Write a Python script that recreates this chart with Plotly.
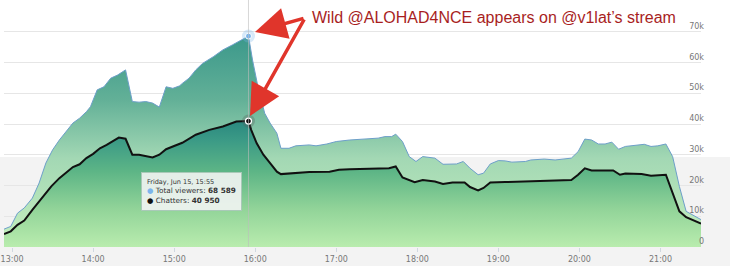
import plotly.graph_objects as go

DAY = "2018-06-15"

viewers_time = ["12:54","12:59","13:04","13:09","13:15","13:20","13:25","13:30","13:35","13:40",
                "13:45","13:50","13:55","13:58","14:03","14:08","14:13","14:18","14:24","14:29",
                "14:34","14:39","14:44","14:49","14:54","14:59","15:04","15:06","15:11","15:16",
                "15:21","15:29","15:36","15:43","15:50","15:55","15:58","16:02","16:07","16:11",
                "16:16","16:19","16:25","16:30","16:40","16:45","16:53","17:00","17:10","17:21",
                "17:31","17:36","17:41","17:44","17:49","17:54","17:59","18:04","18:13","18:19",
                "18:29","18:34","18:39","18:45","18:49","18:54","19:00","19:05","19:10","19:20",
                "19:24","19:34","19:42","19:54","19:59","20:04","20:09","20:14","20:19","20:24",
                "20:29","20:34","20:41","20:48","20:53","20:58","21:04","21:09","21:14","21:19",
                "21:30"]
viewers = [5800,6700,11000,12700,15900,20800,27300,31600,34800,37500,
           40300,41900,44000,45600,51100,52100,54900,55900,57600,47300,
           47100,47300,46800,45500,52100,51600,52400,53200,54900,57600,
           59700,61900,64100,65700,67300,68589,60800,52100,43500,40300,
           37000,32100,32100,32900,33200,32900,33500,34300,34800,35100,
           35400,35900,35900,36700,34300,29400,27800,29400,28900,26900,
           27000,27800,25600,23500,24000,27000,28100,28000,27600,27800,
           28300,28600,28300,28900,31000,35100,34800,33500,33500,34100,
           31800,32700,33000,33400,32700,32900,33500,29400,19700,11600,
           8900]

chatters_time = ["12:54","12:59","13:04","13:09","13:15","13:23","13:29","13:35","13:40","13:45",
                 "13:50","13:55","14:00","14:05","14:10","14:15","14:19","14:24","14:29","14:34",
                 "14:39","14:44","14:49","14:54","14:59","15:04","15:06","15:16","15:26","15:36",
                 "15:46","15:55","15:57","16:01","16:06","16:11","16:16","16:19","16:28","16:35",
                 "16:40","16:55","17:02","17:10","17:21","17:31","17:39","17:44","17:49","17:58",
                 "18:04","18:13","18:19","18:26","18:35","18:39","18:45","18:49","18:54","19:05",
                 "19:20","19:29","19:44","19:54","19:59","20:04","20:09","20:25","20:30","20:34",
                 "20:46","20:53","21:04","21:09","21:14","21:19","21:30"]
chatters = [4200,5100,7200,8600,12100,16400,19700,22400,24200,26000,
            26900,28900,30300,32100,33200,34600,35600,35200,30000,30000,
            29600,29100,30000,31800,32700,33500,33900,36500,38100,39200,
            40800,40950,38100,33800,30000,27300,24500,23700,24000,24000,
            24400,24500,25100,25300,25400,25600,25600,26200,22600,21100,
            21800,21300,20500,21000,21000,19500,18400,19200,21000,21100,
            21300,21500,21500,21800,23500,25600,24900,24900,23500,23900,
            23700,23200,23500,17500,11600,9700,7600]

y_tick_values = [0, 10000, 20000, 30000, 40000, 50000, 60000, 70000]
y_tick_labels = ["0", "10k", "20k", "30k", "40k", "50k", "60k", "70k"]
x_tick_labels = ["13:00", "14:00", "15:00", "16:00", "17:00", "18:00", "19:00", "20:00", "21:00"]

hover_time = "15:55"
hover_label = "Friday, Jun 15, 15:55"
title_text = "Wild @ALOHAD4NCE appears on @v1lat\u2019s stream"

vx = [f"{DAY} {t}" for t in viewers_time]
cx = [f"{DAY} {t}" for t in chatters_time]

W, H = 730, 266
ML, MR, MT, MB = 4, 29, 1, 19
PW, PH = W - ML - MR, H - MT - MB


def px_x(x):
    return (x - ML) / PW


def px_y(y):
    return (H - MB - y) / PH


fig = go.Figure()

fig.add_trace(go.Scatter(
    x=vx, y=viewers, mode="lines", name="Total viewers",
    line=dict(color="#6d9fc9", width=1),
    fill="tozeroy",
    fillgradient=dict(type="vertical", start=0, stop=max(viewers),
                      colorscale=[[0, "#c6f0bf"], [0.42, "#a3d8b4"], [0.7, "#62b097"], [1, "#3b988b"]]),
    hoverinfo="skip", showlegend=False,
))
fig.add_trace(go.Scatter(
    x=cx, y=chatters, mode="lines", name="Chatters",
    line=dict(color="#111111", width=2),
    fill="tozeroy",
    fillgradient=dict(type="vertical", start=0, stop=max(chatters),
                      colorscale=[[0, "#b9ecae"], [0.3, "#92d499"], [0.6, "#5db586"],
                                  [0.85, "#3b9a86"], [1, "#2a887f"]]),
    hoverinfo="skip", showlegend=False,
))

vi = viewers_time.index(hover_time)
ci = chatters_time.index(hover_time)

# crosshair
fig.add_shape(type="line", xref="x", yref="paper", x0=vx[vi], x1=vx[vi], y0=0, y1=1.01,
              line=dict(color="rgba(190,190,190,0.6)", width=1), layer="above")

# hover markers with halos
fig.add_trace(go.Scatter(x=[vx[vi]], y=[viewers[vi]], mode="markers",
                         marker=dict(size=13, color="rgba(124,181,236,0.3)"),
                         hoverinfo="skip", showlegend=False))
fig.add_trace(go.Scatter(x=[vx[vi]], y=[viewers[vi]], mode="markers",
                         marker=dict(size=6, color="#7cb5ec", line=dict(color="white", width=1)),
                         hoverinfo="skip", showlegend=False))
fig.add_trace(go.Scatter(x=[cx[ci]], y=[chatters[ci]], mode="markers",
                         marker=dict(size=13, color="rgba(90,90,90,0.3)"),
                         hoverinfo="skip", showlegend=False))
fig.add_trace(go.Scatter(x=[cx[ci]], y=[chatters[ci]], mode="markers",
                         marker=dict(size=6, color="#111111", line=dict(color="white", width=1.3)),
                         hoverinfo="skip", showlegend=False))


def fmt(v):
    return f"{v:,}".replace(",", " ")


tooltip = (f"<span style='font-size:6.5px'>{hover_label}</span><br>"
           f"<span style='color:#7cb5ec'>\u25cf</span> Total viewers: <b>{fmt(viewers[vi])}</b><br>"
           f"<span style='color:#111'>\u25cf</span> Chatters: <b>{fmt(chatters[ci])}</b>")

annotations = [
    dict(xref="paper", yref="paper", x=px_x(141), y=px_y(172), xanchor="left", yanchor="top",
         text=tooltip, showarrow=False, align="left",
         font=dict(family="DejaVu Sans", size=7.3, color="#333333"),
         bgcolor="rgba(242,244,243,0.9)", bordercolor="#a9c9b8", borderwidth=1, borderpad=5),
    dict(xref="paper", yref="paper", x=px_x(310), y=px_y(18), xanchor="left", yanchor="middle",
         text=title_text, showarrow=False,
         font=dict(family="Liberation Sans, Arial", size=16, color="#a81e1e")),
    dict(xref="paper", yref="paper", x=px_x(255), y=px_y(32), ax=305 - 255, ay=18 - 32,
         axref="pixel", ayref="pixel", text="", showarrow=True, arrowhead=2, arrowsize=1.8,
         arrowwidth=3.5, arrowcolor="#e0352b"),
    dict(xref="paper", yref="paper", x=px_x(250), y=px_y(116), ax=305 - 250, ay=18 - 116,
         axref="pixel", ayref="pixel", text="", showarrow=True, arrowhead=2, arrowsize=1.8,
         arrowwidth=3.5, arrowcolor="#e0352b"),
]

shapes = [
    dict(type="rect", xref="paper", yref="paper", x0=px_x(-5), x1=px_x(W + 5),
         y0=px_y(H + 5), y1=px_y(157), fillcolor="#f3f3f3", line=dict(width=0), layer="below"),
]
for s in shapes:
    fig.add_shape(**s)

fig.update_layout(
    width=W, height=H,
    margin=dict(l=ML, r=MR, t=MT, b=MB),
    paper_bgcolor="white", plot_bgcolor="rgba(0,0,0,0)",
    annotations=annotations,
    xaxis=dict(
        type="date", range=[vx[0], vx[-1]],
        tickvals=[f"{DAY} {t}" for t in x_tick_labels], ticktext=x_tick_labels,
        showgrid=False, zeroline=False, showline=False,
        ticks="outside", ticklen=4, tickcolor="#d0d8e0",
        tickfont=dict(family="DejaVu Sans", size=8, color="#777777"),
    ),
    yaxis=dict(
        range=[0, 80000], side="right", ticklabelposition="inside top", ticklabelstandoff=-6,
        tickvals=y_tick_values, ticktext=y_tick_labels,
        showgrid=True, gridcolor="#e6e6e6", gridwidth=1, zeroline=False,
        tickfont=dict(family="DejaVu Sans", size=8, color="#777777"),
    ),
)

fig.write_html("out.html")
